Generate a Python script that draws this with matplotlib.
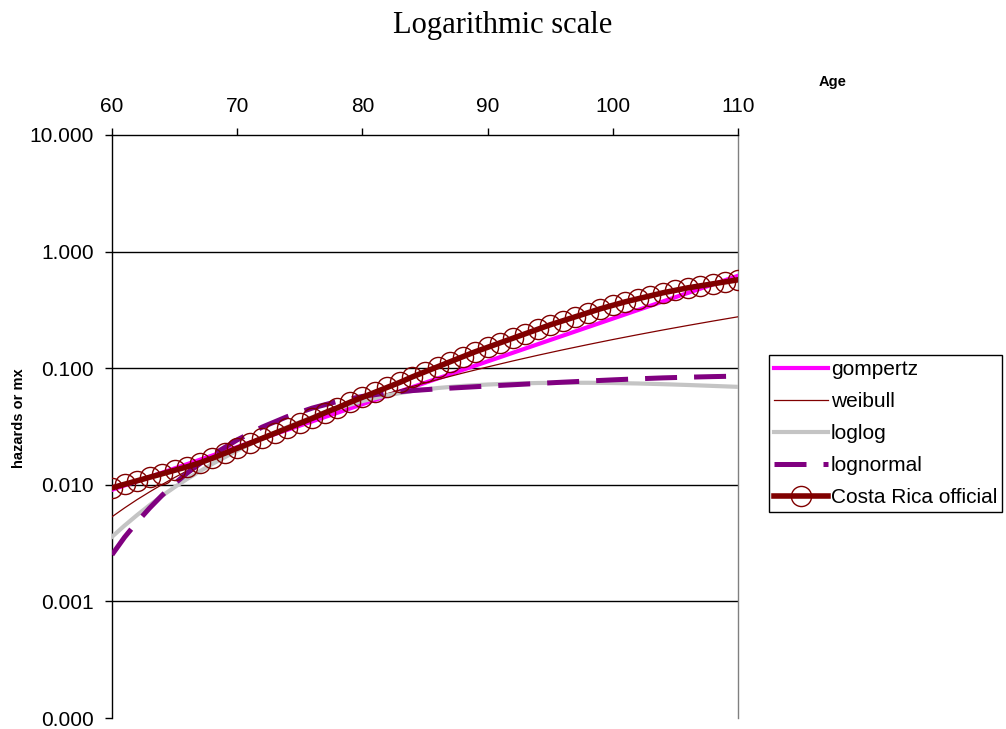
import matplotlib
matplotlib.use("Agg")
import matplotlib.pyplot as plt

plt.rcParams['font.family'] = ['Liberation Sans', 'DejaVu Sans']

# observed rates, one per single year of age
age = list(range(60, 111))
costa_rica = [0.00942, 0.01010, 0.01082, 0.01160, 0.01243, 0.01332, 0.01427, 0.01544,
              0.01688, 0.01863, 0.02056, 0.02269, 0.02505, 0.02765, 0.03052, 0.03369,
              0.03718, 0.04145, 0.04575, 0.05099, 0.05628, 0.06213, 0.06857, 0.07569,
              0.08438, 0.09314, 0.1028, 0.1135, 0.1253, 0.1382, 0.1510, 0.1651,
              0.1804, 0.1972, 0.2156, 0.2356, 0.2549, 0.2759, 0.2986, 0.3231,
              0.3463, 0.3711, 0.3937, 0.4176, 0.4433, 0.4656, 0.4891, 0.5089,
              0.5293, 0.5508, 0.5728]

# fitted hazards
model_age = [60, 61, 62, 63, 64, 65, 66, 67, 68, 70, 72, 74, 76, 78, 80, 82, 84, 86,
             88, 90, 92, 94, 96, 98, 100, 102, 104, 106, 108, 110]
gompertz = [0.00906, 0.00986, 0.01073, 0.01167, 0.01270, 0.01382, 0.01504, 0.01637,
            0.01781, 0.02109, 0.02497, 0.02957, 0.03502, 0.04147, 0.04911, 0.05815,
            0.06887, 0.08156, 0.09658, 0.1144, 0.1354, 0.1604, 0.1899, 0.2249,
            0.2663, 0.3153, 0.3734, 0.4422, 0.5237, 0.6202]
weibull = [0.00532, 0.00633, 0.00746, 0.00869, 0.01006, 0.01155, 0.01317, 0.01493,
           0.01682, 0.02105, 0.02590, 0.03141, 0.03758, 0.04446, 0.05212, 0.06053,
           0.06974, 0.07980, 0.09072, 0.1025, 0.1153, 0.1290, 0.1437, 0.1593,
           0.1761, 0.1938, 0.2127, 0.2326, 0.2537, 0.2760]
loglog = [0.003581, 0.004467, 0.005495, 0.006683, 0.008035, 0.009550, 0.011220, 0.013032,
          0.015066, 0.019679, 0.025119, 0.031261, 0.038019, 0.045186, 0.052240, 0.058614,
          0.063826, 0.067608, 0.070469, 0.072444, 0.073790, 0.074645, 0.074989, 0.074989,
          0.074645, 0.073961, 0.072946, 0.071779, 0.070469, 0.069183]
lognormal = [0.002512, 0.003548, 0.004786, 0.006310, 0.008128, 0.010233, 0.012589, 0.015136,
             0.017989, 0.024266, 0.031261, 0.038459, 0.045499, 0.051880, 0.057280, 0.061376,
             0.064269, 0.066527, 0.068391, 0.070307, 0.072111, 0.073961, 0.075858, 0.077625,
             0.079433, 0.081096, 0.082604, 0.083753, 0.084723, 0.085507]

y_ticks = [0.0001, 0.001, 0.01, 0.1, 1, 10]
x_ticks = [60, 70, 80, 90, 100, 110]

W, H = 1006, 729
fig = plt.figure(figsize=(W / 100, H / 100), dpi=100)
ax = fig.add_axes([112 / W, 1 - 718 / H, (738 - 112) / W, (718 - 135) / H])

ax.plot(model_age, gompertz, color='#FF00FF', lw=3, label='gompertz', zorder=3)
ax.plot(model_age, weibull, color='#800000', lw=0.9, label='weibull', zorder=3)
ax.plot(model_age, loglog, color='#C4C4C4', lw=3, label='loglog', zorder=3)
ax.plot(model_age, lognormal, color='#800080', lw=3.6, dashes=(6.4, 3.4),
        label='lognormal', zorder=4)
ax.plot(age, costa_rica, color='#800000', lw=4, marker='o', markersize=14.5,
        markerfacecolor='none', markeredgecolor='#800000', markeredgewidth=1,
        label='Costa Rica official', zorder=5)

ax.set_yscale('log')
ax.set_ylim(0.0001, 10)
ax.set_xlim(60, 110)
ax.set_yticks(y_ticks)
ax.set_yticklabels(['%.3f' % v for v in y_ticks])
ax.minorticks_off()
ax.set_xticks(x_ticks)
ax.xaxis.tick_top()
ax.tick_params(axis='x', direction='out', length=5, width=1, pad=9, labelsize=15)
ax.tick_params(axis='y', direction='out', length=5, width=1, pad=8, labelsize=15)

for v in y_ticks[1:-1]:
    ax.axhline(v, color='black', lw=1, zorder=1)

ax.spines['bottom'].set_visible(False)
ax.spines['top'].set_color('black')
ax.spines['left'].set_color('black')
ax.spines['right'].set_color('#808080')
for s in ax.spines.values():
    s.set_linewidth(1)

leg = ax.legend(loc='upper left', bbox_to_anchor=(769 / W, 1 - 355 / H),
                bbox_transform=fig.transFigure, fontsize=15, frameon=True,
                fancybox=False, framealpha=1, edgecolor='black', borderaxespad=0,
                borderpad=0.25, handlelength=2.6, handletextpad=0.12, labelspacing=0.62)
leg.get_frame().set_linewidth(1)

fig.text(503 / W, 1 - 25 / H, 'Logarithmic scale', family='Liberation Serif',
         fontsize=22, ha='center', va='center')
fig.text(833 / W, 1 - 82 / H, 'Age', fontsize=10.5, fontweight='bold',
         ha='center', va='center')
fig.text(19 / W, 1 - 418 / H, 'hazards or mx', fontsize=10.5, fontweight='bold',
         rotation=90, ha='center', va='center')

fig.savefig('out.png', dpi=100)
